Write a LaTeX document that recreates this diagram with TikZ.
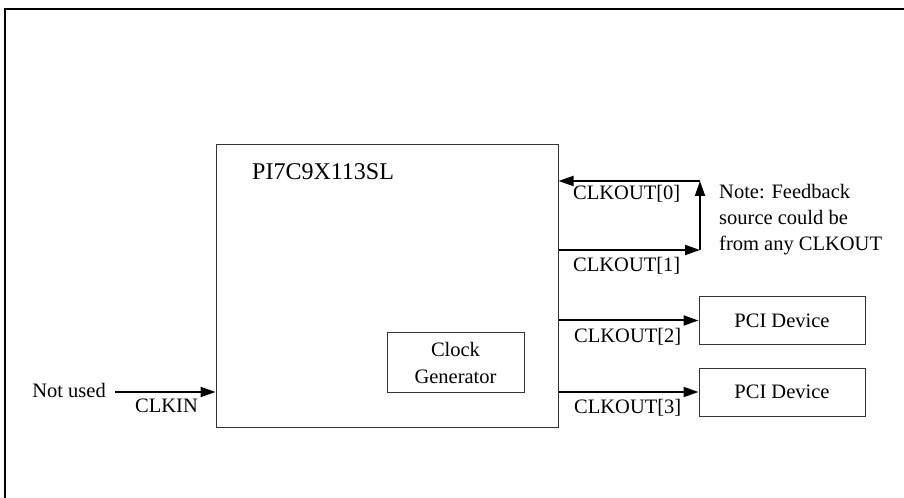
\documentclass[tikz,border=0pt]{standalone}
\usepackage{fontspec}
\setmainfont{Liberation Serif}
\usetikzlibrary{arrows.meta}
\begin{document}
\begin{tikzpicture}[x=1bp,y=-1bp,
  box/.style={draw=black!80, line width=1bp, inner sep=0pt, font=\fontsize{20.5bp}{27bp}\selectfont},
  sig/.style={line width=2bp, -{Triangle[length=15bp,width=10bp]}},
  lbl/.style={inner sep=0pt, anchor=base west, font=\fontsize{20.5bp}{26bp}\selectfont},
]
\useasboundingbox (0,0) rectangle (904,498);
\draw[line width=2bp] (5,498) -- (5,9) -- (904,9);
\node[box, minimum width=342bp, minimum height=282bp] (chip) at (387,286) {};
\node[lbl, font=\fontsize{24bp}{28bp}\selectfont] (title) at (252,180) {PI7C9X113SL};
\node[box, minimum width=137bp, minimum height=59bp, align=center] (clk) at (455.5,362.5) {Clock\\Generator};
\node[box, minimum width=166bp, minimum height=47bp] (pci1) at (782,320.5) {PCI Device};
\node[box, minimum width=166bp, minimum height=48bp] (pci2) at (782,392) {PCI Device};
\coordinate (fbtop) at (700,181);
\coordinate (fbbot) at (700,250);
\draw[sig] (fbtop) -- (chip.east |- fbtop);
\draw[sig] (chip.east |- fbbot) -- (fbbot);
\draw[sig] (fbbot) -- (fbtop);
\draw[sig] (chip.east |- pci1.west) -- (pci1.west);
\draw[sig] (chip.east |- pci2.west) -- (pci2.west);
\node[lbl, anchor=base east] (nu) at (106,397) {Not used};
\coordinate (clkin) at (115,392);
\draw[sig] (clkin) -- (chip.west |- clkin);
\node[lbl] (l0) at (573,200) {CLKOUT[0]};
\node[lbl] (l1) at (573,272) {CLKOUT[1]};
\node[lbl] (l2) at (574,343) {CLKOUT[2]};
\node[lbl] (l3) at (574,413) {CLKOUT[3]};
\node[lbl] (lin) at (135,412) {CLKIN};
\node[lbl, anchor=north west, align=left] (note) at (719,184) {Note: Feedback\\source could be\\from any CLKOUT};
\end{tikzpicture}
\end{document}
